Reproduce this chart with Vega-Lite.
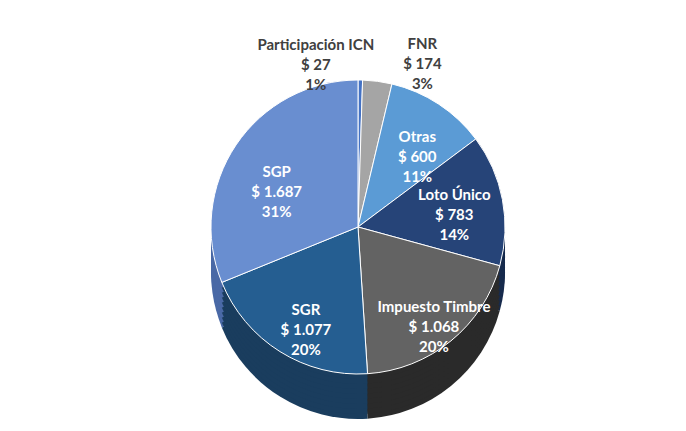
{
  "$schema": "https://vega.github.io/schema/vega-lite/v6.json",
  "width": 686,
  "height": 431,
  "autosize": {"type": "fit", "contains": "padding"},
  "padding": {"left": 30, "right": 0, "top": 60, "bottom": 37},
  "background": "white",
  "config": {"view": {"stroke": null}, "text": {"font": "Lato"}},
  "data": {
    "values": [
      {"cat": "Participación ICN", "v": 27, "val": "$ 27", "pct": "1%", "o": 1},
      {"cat": "FNR", "v": 174, "val": "$ 174", "pct": "3%", "o": 2},
      {"cat": "Otras", "v": 600, "val": "$ 600", "pct": "11%", "o": 3},
      {"cat": "Loto Único", "v": 783, "val": "$ 783", "pct": "14%", "o": 4},
      {"cat": "Impuesto Timbre", "v": 1068, "val": "$ 1.068", "pct": "20%", "o": 5},
      {"cat": "SGR", "v": 1077, "val": "$ 1.077", "pct": "20%", "o": 6},
      {"cat": "SGP", "v": 1687, "val": "$ 1.687", "pct": "31%", "o": 7}
    ]
  },
  "transform": [
    {"calculate": "datum.cat + '\\n' + datum.val + '\\n' + datum.pct", "as": "label"}
  ],
  "encoding": {
    "theta": {"field": "v", "type": "quantitative", "stack": true},
    "order": {"field": "o", "type": "quantitative"}
  },
  "layer": [
    {
      "mark": {"type": "arc", "outerRadius": 147, "yOffset": 45},
      "encoding": {
        "fill": {"field": "cat", "type": "nominal", "legend": null,
          "scale": {"domain": ["Participación ICN", "FNR", "Otras", "Loto Único", "Impuesto Timbre", "SGR", "SGP"],
                    "range": ["#2c4f8f", "#6e6e6e", "#3d6f9c", "#172b4d", "#2a2a2a", "#1a3d5e", "#4a69a6"]}}
      }
    },
    {"mark": {"type": "arc", "outerRadius": 147, "yOffset": 40}, "encoding": {"fill": {"field": "cat", "type": "nominal", "legend": null}}},
    {"mark": {"type": "arc", "outerRadius": 147, "yOffset": 35}, "encoding": {"fill": {"field": "cat", "type": "nominal", "legend": null}}},
    {"mark": {"type": "arc", "outerRadius": 147, "yOffset": 30}, "encoding": {"fill": {"field": "cat", "type": "nominal", "legend": null}}},
    {"mark": {"type": "arc", "outerRadius": 147, "yOffset": 25}, "encoding": {"fill": {"field": "cat", "type": "nominal", "legend": null}}},
    {"mark": {"type": "arc", "outerRadius": 147, "yOffset": 20}, "encoding": {"fill": {"field": "cat", "type": "nominal", "legend": null}}},
    {"mark": {"type": "arc", "outerRadius": 147, "yOffset": 15}, "encoding": {"fill": {"field": "cat", "type": "nominal", "legend": null}}},
    {"mark": {"type": "arc", "outerRadius": 147, "yOffset": 10}, "encoding": {"fill": {"field": "cat", "type": "nominal", "legend": null}}},
    {"mark": {"type": "arc", "outerRadius": 147, "yOffset": 5}, "encoding": {"fill": {"field": "cat", "type": "nominal", "legend": null}}},
    {
      "mark": {"type": "arc", "outerRadius": 147, "stroke": "#ffffff", "strokeWidth": 1},
      "encoding": {
        "color": {"field": "cat", "type": "nominal", "legend": null,
          "scale": {"domain": ["Participación ICN", "FNR", "Otras", "Loto Único", "Impuesto Timbre", "SGR", "SGP"],
                    "range": ["#4472C4", "#A5A5A5", "#5B9BD5", "#264478", "#636363", "#255E91", "#698ED0"]}}
      }
    },
    {
      "transform": [{"calculate": "datum.o > 5 ? datum.label : ''", "as": "t"}],
      "mark": {"type": "text", "radius": 98, "color": "white", "fontWeight": "bold", "fontSize": 15, "lineBreak": "\n", "lineHeight": 20, "baseline": "middle", "align": "center"},
      "encoding": {"text": {"field": "t", "type": "nominal"}}
    },
    {
      "transform": [{"calculate": "datum.o == 5 ? datum.label : ''", "as": "t"}],
      "mark": {"type": "text", "radius": 98, "dx": 14, "dy": 4, "color": "white", "fontWeight": "bold", "fontSize": 15, "lineBreak": "\n", "lineHeight": 20, "baseline": "middle", "align": "center"},
      "encoding": {"text": {"field": "t", "type": "nominal"}}
    },
    {
      "transform": [{"calculate": "datum.o == 4 ? datum.label : ''", "as": "t"}],
      "mark": {"type": "text", "radius": 98, "dy": -14, "color": "white", "fontWeight": "bold", "fontSize": 15, "lineBreak": "\n", "lineHeight": 20, "baseline": "middle", "align": "center"},
      "encoding": {"text": {"field": "t", "type": "nominal"}}
    },
    {
      "transform": [{"calculate": "datum.o == 3 ? datum.label : ''", "as": "t"}],
      "mark": {"type": "text", "radius": 108, "color": "white", "fontWeight": "bold", "fontSize": 15, "lineBreak": "\n", "lineHeight": 20, "baseline": "middle", "align": "center"},
      "encoding": {"text": {"field": "t", "type": "nominal"}}
    },
    {
      "transform": [{"calculate": "datum.o == 1 ? datum.label : ''", "as": "t"}],
      "mark": {"type": "text", "radius": 182, "dx": -45, "color": "#404040", "fontWeight": "bold", "fontSize": 15, "lineBreak": "\n", "lineHeight": 20, "baseline": "middle", "align": "center"},
      "encoding": {"text": {"field": "t", "type": "nominal"}}
    },
    {
      "transform": [{"calculate": "datum.o == 2 ? datum.label : ''", "as": "t"}],
      "mark": {"type": "text", "radius": 185, "dx": 40, "color": "#404040", "fontWeight": "bold", "fontSize": 15, "lineBreak": "\n", "lineHeight": 20, "baseline": "middle", "align": "center"},
      "encoding": {"text": {"field": "t", "type": "nominal"}}
    }
  ]
}
